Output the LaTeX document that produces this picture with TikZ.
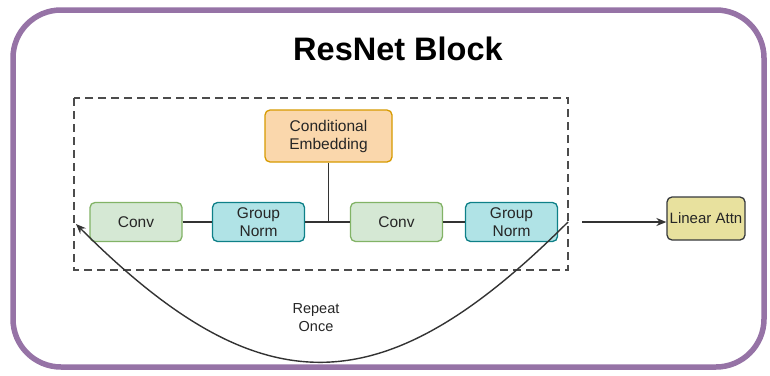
\documentclass[tikz,border=0pt]{standalone}
\usepackage{fontspec}
\setmainfont{Liberation Sans}
\usetikzlibrary{arrows.meta}
\definecolor{frame}{HTML}{9673A6}
\definecolor{orfill}{HTML}{FAD7AC}
\definecolor{ordraw}{HTML}{D79B00}
\definecolor{grfill}{HTML}{D5E8D4}
\definecolor{grdraw}{HTML}{82B366}
\definecolor{blfill}{HTML}{B0E3E6}
\definecolor{bldraw}{HTML}{0E8088}
\definecolor{yefill}{HTML}{E8E19E}
\definecolor{yedraw}{HTML}{36393D}
\tikzset{
  blk/.style={rounded corners=5pt, line width=1.3pt, minimum width=92pt, minimum height=39pt,
    align=center, inner sep=1pt, font=\fontsize{15.5}{18}\selectfont, text=black!85},
  convbox/.style={blk, fill=grfill, draw=grdraw},
  normbox/.style={blk, fill=blfill, draw=bldraw},
  condbox/.style={blk, fill=orfill, draw=ordraw, minimum width=127pt, minimum height=52pt},
  attnbox/.style={blk, fill=yefill, draw=yedraw, minimum width=78pt, minimum height=43pt, font=\fontsize{15}{18}\selectfont},
  link/.style={line width=1.4pt, draw=black!80},
  arr/.style={link, -{Stealth[length=10pt,width=8pt]}}
}
\begin{document}
\begin{tikzpicture}[x=1pt,y=-1pt]
\useasboundingbox (0,0) rectangle (770,375);
\fill[white] (0,0) rectangle (770,375);
\draw[frame, line width=5.5pt, rounded corners=48pt] (13,10) rectangle (764,367);
\node[font=\fontsize{32.5}{36}\selectfont\bfseries] (title) at (398,49) {ResNet Block};
\draw[dash pattern=on 8pt off 5pt, line width=1.3pt, draw=black!70] (74,98) rectangle (568,270);
\node[condbox] (cond) at (328.5,136) {Conditional\\Embedding};
\node[convbox] (c1) at (136,222) {Conv};
\node[normbox] (g1) at (258.5,222) {Group\\Norm};
\node[convbox] (c2) at (396.5,222) {Conv};
\node[normbox] (g2) at (511.5,222) {Group\\Norm};
\node[attnbox] (attn) at (706,218.5) {Linear Attn};
\coordinate (junc) at (cond.south |- g1.east);
\draw[link] (c1) -- (g1);
\draw[link] (g1) -- (c2);
\draw[link] (cond.south) -- (junc);
\draw[link] (c2) -- (g2);
\coordinate (outS) at (582,222);
\draw[arr] (outS) -- (attn.west |- outS);
\coordinate (loopR) at (568,222);
\coordinate (loopL) at (76,224);
\draw[arr] (loopR) .. controls (383,407) and (261,409) .. (loopL);
\node[align=center, font=\fontsize{14.5}{18}\selectfont, text=black!85] (rep) at (316,318) {Repeat\\Once};
\end{tikzpicture}
\end{document}
